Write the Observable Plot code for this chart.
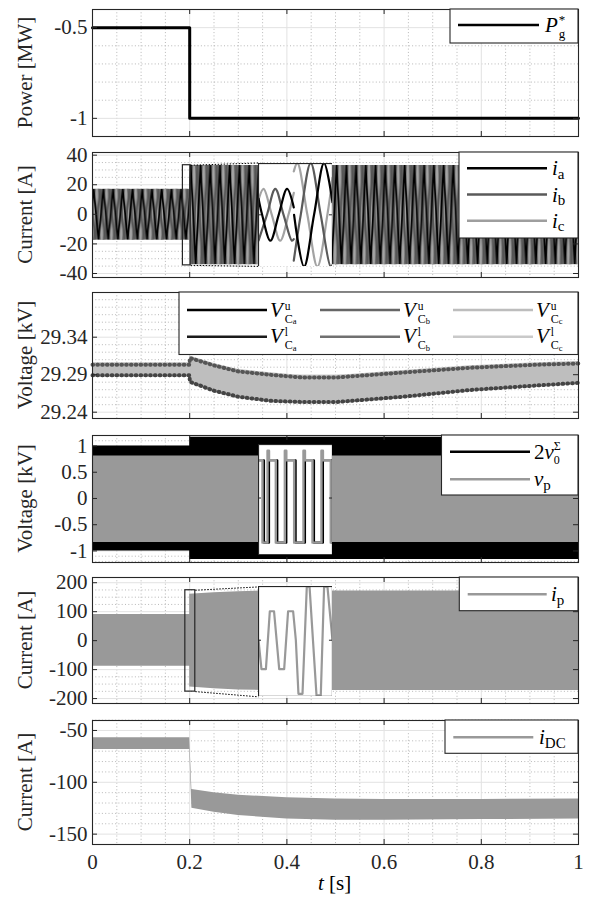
<!DOCTYPE html>
<html><head><meta charset="utf-8">
<script src="https://cdn.jsdelivr.net/npm/d3@7"></script>
<script src="https://cdn.jsdelivr.net/npm/@observablehq/plot@0.6"></script>
<style>
html,body{margin:0;padding:0;background:#fff;}
#chart{position:relative;width:590px;height:897px;overflow:hidden;background:#fff;}
#chart > svg{position:absolute;left:0;}
</style></head><body>
<div id="chart"></div>
<script>
const FONT = '"Liberation Serif", "DejaVu Serif", "Noto Serif", serif';

// ---------- shared x axis ----------
const xTicks = [0, 0.2, 0.4, 0.6, 0.8, 1];
const xMinor = [0.05, 0.1, 0.15, 0.25, 0.3, 0.35, 0.45, 0.5, 0.55, 0.65, 0.7, 0.75, 0.85, 0.9, 0.95];

// ---------- panel 1 : power reference ----------
const powerT = [0, 0.2, 0.2, 1];
const powerRef = [-0.5, -0.5, -1, -1];
const powerTicks = [-1, -0.5];
const powerMinor = [-0.9, -0.8, -0.7, -0.6];

// ---------- panel 2 : phase currents (envelope of dense 50 Hz waves) ----------
const iacT = [0, 0.2, 0.2, 1];
const iacHi = [17, 17, 33, 33];
const iacLo = [-17.5, -17.5, -34, -34];
const iacTicks = [-40, -20, 0, 20, 40];
const iacMinor = [-35, -30, -25, -15, -10, -5, 5, 10, 15, 25, 30, 35];
// inset waveforms: [position across inset 0..1, current A]
const iaInsetPre = [[0, 11], [0.049, 0], [0.161, -17.5], [0.273, 0], [0.386, 17.5], [0.477, 5]];
const ibInsetPre = [[0, -17.5], [0.114, 0], [0.227, 17.5], [0.339, 0], [0.452, -17.5], [0.477, -16.4]];
const icInsetPre = [[0, 10], [0.068, 17.5], [0.18, 0], [0.293, -17.5], [0.405, 0], [0.477, 14.8]];
const iaInsetPost = [[0.481, 0], [0.616, -35], [0.751, 0], [0.886, 35], [1, 8.5]];
const ibInsetPost = [[0.477, -31], [0.571, 0], [0.706, 35], [0.841, 0], [0.976, -35], [1, -34]];
const icInsetPost = [[0.477, 29.4], [0.526, 35], [0.661, 0], [0.796, -35], [0.931, 0], [1, 25]];
const iacZoomBox = {t: [0.186, 0.202], v: [-34.5, 33.2]};
const iacInsetBox = {t: [0.3416, 0.4938], v: [-35.2, 34.7]};

// ---------- panel 3 : capacitor voltages (envelope) ----------
const vcT = [0, 0.2, 0.2, 0.25, 0.3, 0.366, 0.43, 0.503, 0.64, 0.778, 0.915, 1];
const vcHi = [29.306, 29.306, 29.315, 29.305, 29.297, 29.2925, 29.289, 29.289, 29.2956, 29.302, 29.306, 29.3076];
const vcLo = [29.2867, 29.2867, 29.278, 29.266, 29.258, 29.2525, 29.251, 29.251, 29.258, 29.267, 29.273, 29.2765];
const vcTicks = [29.24, 29.29, 29.34];
const vcMinor = [29.25, 29.26, 29.27, 29.28, 29.30, 29.31, 29.32, 29.33, 29.35, 29.36, 29.37, 29.38, 29.39];

// ---------- panel 4 : 2v0 and vp (envelopes) ----------
const v0T = [0, 0.2, 0.2, 1];
const v0Hi = [1.0, 1.0, 1.165, 1.165];
const v0Lo = [-1.0, -1.0, -1.165, -1.165];
const vpT = [0, 1];
const vpHi = [0.81, 0.81];
const vpLo = [-0.84, -0.84];
const vTicks = [-1, -0.5, 0, 0.5, 1];
const vMinor = [-1.2, -1.1, -0.9, -0.8, -0.7, -0.6, -0.4, -0.3, -0.2, -0.1, 0.1, 0.2, 0.3, 0.4, 0.6, 0.7, 0.8, 0.9, 1.1, 1.2];
const vpInset = [[0, 0.72], [0.054, 0.72], [0.054, -0.85], [0.122, -0.85], [0.122, 0.9], [0.142, 0.9], [0.142, 0.72], [0.234, 0.72], [0.234, -0.85], [0.356, -0.85], [0.356, 0.9], [0.376, 0.9], [0.376, 0.72], [0.482, 0.72], [0.482, -0.85], [0.608, -0.85], [0.608, 0.9], [0.628, 0.9], [0.628, 0.72], [0.73, 0.72], [0.73, -0.85], [0.851, -0.85], [0.851, 0.9], [0.871, 0.9], [0.871, 0.72], [0.977, 0.72], [0.977, -0.85], [1, -0.85]];
const v0Inset = [[0, 0.72], [0.074, 0.72], [0.074, -0.85], [0.142, -0.85], [0.142, 0.72], [0.254, 0.72], [0.254, -0.85], [0.376, -0.85], [0.376, 0.72], [0.502, 0.72], [0.502, -0.85], [0.628, -0.85], [0.628, 0.72], [0.75, 0.72], [0.75, -0.85], [0.871, -0.85], [0.871, 0.72], [0.997, 0.72], [0.997, -0.85], [1, -0.85]];
const vInsetBox = {t: [0.3416, 0.4938], v: [-1.08, 1.02]};

// ---------- panel 5 : ip (envelope) ----------
const ipT = [0, 0.2, 0.2, 0.25, 0.3, 0.35, 1];
const ipHi = [90, 90, 160, 165, 169, 171, 171];
const ipLo = [-88, -88, -160, -166, -170, -172, -172];
const ipTicks = [-200, -100, 0, 100, 200];
const ipMinor = [-175, -150, -125, -75, -50, -25, 25, 50, 75, 125, 150, 175];
const ipInset = [[0, 0], [0.04, -100], [0.10, -100], [0.153, 100], [0.21, 100], [0.28, -100], [0.347, -100], [0.40, 100], [0.468, 100], [0.505, 0], [0.54, -185], [0.595, -185], [0.653, 185], [0.69, 185], [0.784, -190], [0.842, -190], [0.887, 185], [0.932, 185], [1.0, 0]];
const ipZoomBox = {t: [0.191, 0.2115], v: [-176, 174]};
const ipInsetBox = {t: [0.3416, 0.4938], v: [-194, 185.5]};

// ---------- panel 6 : iDC (envelope) ----------
const idcT = [0, 0.2, 0.2045, 0.25, 0.3, 0.4, 0.5, 0.6, 0.8, 1];
const idcHi = [-57, -57, -107, -110, -112.5, -115, -116, -116.5, -116.5, -116];
const idcLo = [-68.3, -68.3, -125, -129, -132, -135.5, -136.5, -136.5, -136, -135.5];
const idcTicks = [-150, -100, -50];
const idcMinor = [-160, -140, -130, -120, -110, -90, -80, -70, -60, -40];

// ---------- helpers ----------
const band = (t, hi, lo) => t.map((d, i) => ({t: d, hi: hi[i], lo: lo[i]}));
const series = (t, v) => t.map((d, i) => ({t: d, v: v[i]}));
const container = d3.select("#chart");
const FR_LEFT = 92, FR_RIGHT = 578;
const DARK = "#262626";

function panel(cfg) {
  const mt = 4, mb = cfg.xAxis ? 56 : 4;
  const h = cfg.bottom - cfg.top;
  const [y0, y1] = cfg.yDomain;
  const ty = 5 / h * (y1 - y0), tx = 5 / (FR_RIGHT - FR_LEFT);
  const dotted = {stroke: "#b0b0b0", strokeWidth: 0.9, strokeDasharray: "1,2.3"};
  const marks = [
    Plot.ruleX(xMinor, dotted),
    Plot.ruleY(cfg.yMinor, dotted),
    Plot.ruleX(xTicks, {stroke: "#e2e2e2"}),
    Plot.ruleY(cfg.yTicks, {stroke: "#e2e2e2"}),
    ...cfg.marks,
    Plot.ruleX(xTicks, {y1: y0, y2: y0 + ty, stroke: DARK}),
    Plot.ruleX(xTicks, {y1: y1 - ty, y2: y1, stroke: DARK}),
    Plot.ruleY(cfg.yTicks, {x1: 0, x2: tx, stroke: DARK}),
    Plot.ruleY(cfg.yTicks, {x1: 1 - tx, x2: 1, stroke: DARK}),
    Plot.frame({stroke: DARK, strokeWidth: 1.1}),
    Plot.axisY(cfg.yTicks, {tickSize: 0, tickPadding: 5, tickFormat: d => String(d), label: null})
  ];
  if (cfg.xAxis) marks.push(Plot.axisX(xTicks, {tickSize: 0, tickPadding: 10, tickFormat: d => String(d), label: null}));
  const svg = Plot.plot({
    width: 590, height: h + mt + mb,
    marginLeft: FR_LEFT, marginRight: 590 - FR_RIGHT, marginTop: mt, marginBottom: mb,
    x: {domain: [0, 1], axis: cfg.xAxis ? undefined : null},
    y: {domain: cfg.yDomain},
    style: {fontFamily: FONT, fontSize: "21px", color: DARK, background: "transparent", overflow: "visible"},
    marks
  });
  svg.style.top = (cfg.top - mt) + "px";
  container.node().appendChild(svg);
  return {svg, x: svg.scale("x"), y: svg.scale("y"), top: cfg.top - mt};
}

function inset(p, box, marks) {
  const px0 = p.x.apply(box.t[0]), px1 = p.x.apply(box.t[1]);
  const py0 = p.y.apply(box.v[1]), py1 = p.y.apply(box.v[0]);
  const w = px1 - px0, h = py1 - py0;
  const svg = Plot.plot({
    width: w, height: h, margin: 0,
    x: {domain: [0, 1], axis: null}, y: {domain: box.v, axis: null},
    style: {background: "white", overflow: "hidden"},
    marks: [
      ...marks,
      Plot.ruleY([0], {x1: 0, x2: 3 / w, stroke: DARK}),
      Plot.ruleY([0], {x1: 1 - 3 / w, x2: 1, stroke: DARK}),
      Plot.frame({stroke: DARK, strokeWidth: 1.2})
    ]
  });
  svg.style.left = px0 + "px";
  svg.style.top = (p.top + py0) + "px";
  container.node().appendChild(svg);
}

function zoomMarks(zb, ib) {
  const dash = {stroke: "#000", strokeWidth: 1, strokeDasharray: "1.5,1.5"};
  return [
    Plot.rect([zb], {x1: d => d.t[0], x2: d => d.t[1], y1: d => d.v[0], y2: d => d.v[1], fill: "none", stroke: DARK, strokeWidth: 1.2}),
    Plot.link([0], {x1: zb.t[1], y1: zb.v[1], x2: ib.t[0], y2: ib.v[1], ...dash}),
    Plot.link([0], {x1: zb.t[1], y1: zb.v[0], x2: ib.t[0], y2: ib.v[0], ...dash})
  ];
}

// ---------- panels ----------
const p1 = panel({
  top: 9, bottom: 136, yDomain: [-1.1, -0.4], yTicks: powerTicks, yMinor: powerMinor,
  marks: [Plot.line(series(powerT, powerRef), {x: "t", y: "v", stroke: "#000", strokeWidth: 3})]
});

const iacBand = band(iacT, iacHi, iacLo);
const p2 = panel({
  top: 152, bottom: 277, yDomain: [-42.7, 41.8], yTicks: iacTicks, yMinor: iacMinor,
  marks: [
    Plot.areaY(iacBand.slice(0, 2), {x: "t", y1: "lo", y2: "hi", fill: "url(#zzPre)"}),
    Plot.areaY(iacBand.slice(2), {x: "t", y1: "lo", y2: "hi", fill: "url(#zzPost)"}),
    ...zoomMarks(iacZoomBox, iacInsetBox)
  ]
});
(function addPatterns() {
  const P = p2.x.apply(0.02) - p2.x.apply(0);
  const defs = d3.select(p2.svg).insert("defs", ":first-child");
  const mk = (id, hi, lo) => {
    const yTop = p2.y.apply(hi), H = p2.y.apply(lo) - yTop;
    const pat = defs.append("pattern").attr("id", id).attr("patternUnits", "userSpaceOnUse")
      .attr("x", FR_LEFT).attr("y", yTop).attr("width", P).attr("height", H);
    pat.append("rect").attr("width", P).attr("height", H).attr("fill", "#6e6e6e");
    [["#a3a3a3", 0], ["#555", 1 / 3], ["#000", 2 / 3]].forEach(([c, ph]) => {
      const o = ph * P;
      pat.append("path")
        .attr("d", `M${o - P},${H} L${o - P / 2},0 L${o},${H} L${o + P / 2},0 L${o + P},${H}`)
        .attr("fill", "none").attr("stroke", c).attr("stroke-width", 1.7);
    });
  };
  mk("zzPre", iacHi[0], iacLo[0]);
  mk("zzPost", iacHi[2], iacLo[2]);
})();

const vcBand = band(vcT, vcHi, vcLo);
const p3 = panel({
  top: 292, bottom: 418, yDomain: [29.2316, 29.3996], yTicks: vcTicks, yMinor: vcMinor,
  marks: [
    Plot.areaY(vcBand, {x: "t", y1: "lo", y2: "hi", fill: "#bebebe"}),
    Plot.line(vcBand, {x: "t", y: "hi", stroke: "#555", strokeWidth: 4, strokeDasharray: "0.7,4.1", dy: 2}),
    Plot.line(vcBand, {x: "t", y: "lo", stroke: "#444", strokeWidth: 4, strokeDasharray: "0.7,4.1", dy: -2})
  ]
});

const p4 = panel({
  top: 435, bottom: 562, yDomain: [-1.22, 1.2], yTicks: vTicks, yMinor: vMinor,
  marks: [
    Plot.areaY(band(v0T, v0Hi, v0Lo), {x: "t", y1: "lo", y2: "hi", fill: "#000"}),
    Plot.areaY(band(vpT, vpHi, vpLo), {x: "t", y1: "lo", y2: "hi", fill: "#999"})
  ]
});

const p5 = panel({
  top: 577, bottom: 703, yDomain: [-217, 218], yTicks: ipTicks, yMinor: ipMinor,
  marks: [
    Plot.areaY(band(ipT, ipHi, ipLo), {x: "t", y1: "lo", y2: "hi", fill: "#999"}),
    ...zoomMarks(ipZoomBox, ipInsetBox)
  ]
});

const p6 = panel({
  top: 720, bottom: 844, yDomain: [-160, -40.4], yTicks: idcTicks, yMinor: idcMinor, xAxis: true,
  marks: [Plot.areaY(band(idcT, idcHi, idcLo), {x: "t", y1: "lo", y2: "hi", fill: "#999"})]
});

// ---------- insets ----------
const L = (arr, stroke, w = 2.2, curve = "catmull-rom") => Plot.line(arr, {x: d => d[0], y: d => d[1], stroke, strokeWidth: w, curve});
inset(p2, iacInsetBox, [
  L(icInsetPre, "#a3a3a3"), L(ibInsetPre, "#5a5a5a"), L(iaInsetPre, "#000"),
  L(icInsetPost, "#a3a3a3"), L(ibInsetPost, "#5a5a5a"), L(iaInsetPost, "#000")
]);
inset(p4, vInsetBox, [L(v0Inset, "#000", 2.2, "linear"), L(vpInset, "#999", 2.4, "linear")]);
inset(p5, ipInsetBox, [L(ipInset, "#999", 2.2, "linear")]);

// ---------- overlay: labels and legends ----------
const ov = container.append("svg").attr("width", 590).attr("height", 897).style("top", "0px");

const yLabels = [["Power [MW]", 72.5], ["Current [A]", 214.5], ["Voltage [kV]", 355], ["Voltage [kV]", 498.5], ["Current [A]", 640], ["Current [A]", 782]];
yLabels.forEach(([txt, cy]) => {
  ov.append("text").attr("transform", `translate(32,${cy}) rotate(-90)`).attr("text-anchor", "middle")
    .attr("font-family", FONT).attr("font-size", 21).attr("fill", DARK).text(txt);
});

// one <text> per formula; superscript and subscript stacked with tspans
function mathText(g, x, y, parts) {
  const t = g.append("text").attr("x", x).attr("y", y).attr("font-family", FONT).attr("font-size", 21).attr("fill", "#000");
  let curDy = 0, lastW = 0, pending = 0;
  for (const p of parts) {
    const ts = t.append("tspan").attr("font-size", p.size || 21).attr("font-style", p.it ? "italic" : "normal");
    const dy = (p.dy || 0) - curDy; curDy = p.dy || 0;
    let dx = (p.dx || 0) + pending; pending = 0;
    if (p.stack) dx -= lastW;
    ts.attr("dy", dy).attr("dx", dx).text(p.t);
    const w = ts.node().getComputedTextLength();
    if (p.stack && w < lastW) pending = lastW - w;
    lastW = w;
  }
}
mathText(ov, 318, 890, [{t: "t", it: true}, {t: "\u00a0[s]"}]);

function legend(box, entries) {
  ov.append("rect").attr("x", box[0]).attr("y", box[1]).attr("width", box[2] - box[0]).attr("height", box[3] - box[1])
    .attr("fill", "#fff").attr("stroke", DARK).attr("stroke-width", 1.1);
  for (const e of entries) {
    ov.append("line").attr("x1", e.x1).attr("x2", e.x2).attr("y1", e.y).attr("y2", e.y)
      .attr("stroke", e.color).attr("stroke-width", 2.6);
    mathText(ov, e.tx, e.y + (e.base || 7), e.parts);
  }
}
const sub = (s, dy = 3.5) => ({t: s, size: 15, dy});
legend([450, 9, 578, 43], [{x1: 458, x2: 539, y: 25, color: "#000", tx: 545,
  parts: [{t: "P", it: true}, {t: "*", size: 13, dy: -8.5, dx: 1}, {t: "g", size: 13, dy: 6, stack: true}]}]);
legend([459, 152, 578, 238], [
  {x1: 467, x2: 547, y: 168.3, color: "#000", tx: 552, parts: [{t: "i", it: true}, sub("a")]},
  {x1: 467, x2: 547, y: 194.5, color: "#5a5a5a", tx: 552, parts: [{t: "i", it: true}, sub("b")]},
  {x1: 467, x2: 547, y: 220.7, color: "#9e9e9e", tx: 552, parts: [{t: "i", it: true}, sub("c")]}
]);
const vcParts = (ul, ph) => [{t: "V", it: true}, {t: ul, size: 11.5, dy: -7, dx: 2}, {t: "C", size: 12, dy: 6.2, stack: true}, {t: ph, size: 8.5, dy: 7.5}];
legend([179, 292, 578, 354.5], [
  {x1: 187, x2: 267, y: 310, base: 6.5, color: "#000", tx: 270, parts: vcParts("u", "a")},
  {x1: 320, x2: 400, y: 310, base: 6.5, color: "#666", tx: 403, parts: vcParts("u", "b")},
  {x1: 453, x2: 533, y: 310, base: 6.5, color: "#bdbdbd", tx: 536, parts: vcParts("u", "c")},
  {x1: 187, x2: 267, y: 336.7, base: 6.5, color: "#1a1a1a", tx: 270, parts: vcParts("l", "a")},
  {x1: 320, x2: 400, y: 336.7, base: 6.5, color: "#707070", tx: 403, parts: vcParts("l", "b")},
  {x1: 453, x2: 533, y: 336.7, base: 6.5, color: "#c9c9c9", tx: 536, parts: vcParts("l", "c")}
]);
legend([441.5, 435, 578, 495], [
  {x1: 450, x2: 530, y: 451.7, color: "#000", tx: 534, parts: [{t: "2"}, {t: "v", it: true}, {t: "Σ", size: 12, dy: -8.5}, {t: "0", size: 12, dy: 5.5, stack: true}]},
  {x1: 450, x2: 530, y: 479.3, color: "#999", tx: 534, parts: [{t: "v", it: true}, sub("p", 4)]}
]);
legend([459.3, 577, 578, 610.7], [
  {x1: 467.7, x2: 546.7, y: 594.3, color: "#999", tx: 551, parts: [{t: "i", it: true}, sub("p", 4)]}
]);
legend([445, 720, 578, 753.3], [
  {x1: 453.3, x2: 533.3, y: 737.3, color: "#999", tx: 539, parts: [{t: "i", it: true}, sub("DC", 4)]}
]);
</script>
</body></html>
